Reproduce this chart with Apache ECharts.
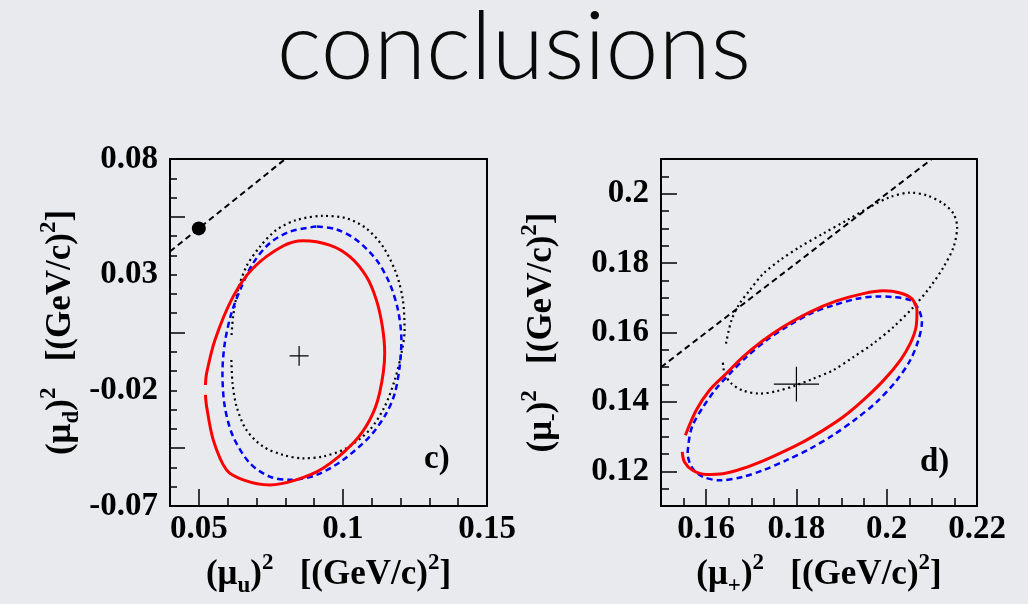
<!DOCTYPE html>
<html>
<head>
<meta charset="utf-8">
<script src="https://cdn.jsdelivr.net/npm/echarts@6/dist/echarts.min.js"></script>
<style>
html,body{margin:0;padding:0;background:#e9eaee;}
#chart{width:1028px;height:604px;}
</style>
</head>
<body>
<div id="chart"></div>
<script>
// ---------- Panel c) data ----------
const cXTicks = [0.05, 0.1, 0.15];
const cYTicks = [-0.07, -0.02, 0.03, 0.08];
const cYLongTicks = [-0.045, 0.005, 0.055];
const cRed = [[0.0523,-0.0220],[0.0527,-0.0270],[0.0550,-0.0414],[0.0596,-0.0544],[0.0654,-0.0587],[0.0746,-0.0609],[0.0838,-0.0587],[0.0931,-0.0537],[0.1035,-0.0429],[0.1093,-0.0328],[0.1127,-0.0213],[0.1145,-0.0040],[0.1137,0.0075],[0.1116,0.0191],[0.1082,0.0291],[0.1024,0.0378],[0.0954,0.0428],[0.0862,0.0447],[0.0792,0.0424],[0.0688,0.0328],[0.0619,0.0205],[0.0556,0.0018],[0.0527,-0.0126],[0.0523,-0.0177]];
const cBlue = [[0.0908,0.0508],[0.0816,0.0486],[0.0746,0.0436],[0.0688,0.0349],[0.0648,0.0248],[0.0613,0.0133],[0.0590,0.0003],[0.0582,-0.0126],[0.0590,-0.0270],[0.0619,-0.0400],[0.0677,-0.0515],[0.0746,-0.0573],[0.0816,-0.0587],[0.0908,-0.0566],[0.1000,-0.0501],[0.1093,-0.0400],[0.1151,-0.0299],[0.1180,-0.0213],[0.1197,-0.0097],[0.1203,0.0018],[0.1191,0.0147],[0.1162,0.0263],[0.1116,0.0364],[0.1047,0.0450],[0.0977,0.0496],[0.0908,0.0508]];
const cDot = [[0.0613,-0.0069],[0.0617,-0.0169],[0.0631,-0.0270],[0.0665,-0.0371],[0.0723,-0.0443],[0.0792,-0.0479],[0.0862,-0.0494],[0.0931,-0.0486],[0.1012,-0.0450],[0.1093,-0.0371],[0.1145,-0.0270],[0.1180,-0.0155],[0.1203,-0.0040],[0.1214,0.0061],[0.1208,0.0191],[0.1185,0.0306],[0.1139,0.0421],[0.1081,0.0500],[0.1012,0.0544],[0.0931,0.0554],[0.0838,0.0536],[0.0769,0.0493],[0.0712,0.0421],[0.0665,0.0335],[0.0636,0.0234],[0.0619,0.0119],[0.0613,0.0025]];
const cDiag = [[0.04,0.04],[0.08,0.08]];
const cPoint = [[0.05,0.05]];
const cCenter = [0.0848,-0.0051];
const cErr = [0.0033,0.0043];

// ---------- Panel d) data ----------
const dXTicks = [0.16, 0.18, 0.2, 0.22];
const dYTicks = [0.12, 0.14, 0.16, 0.18, 0.2];
const dRed = [[0.1554,0.1304],[0.1578,0.1376],[0.1607,0.1433],[0.1644,0.1481],[0.1681,0.1529],[0.1726,0.1577],[0.1770,0.1616],[0.1830,0.1659],[0.1889,0.1691],[0.1948,0.1712],[0.1993,0.1720],[0.2030,0.1714],[0.2056,0.1697],[0.2067,0.1664],[0.2065,0.1616],[0.2052,0.1568],[0.2030,0.1520],[0.1993,0.1462],[0.1948,0.1405],[0.1904,0.1357],[0.1859,0.1318],[0.1815,0.1285],[0.1770,0.1256],[0.1726,0.1230],[0.1681,0.1208],[0.1637,0.1193],[0.1600,0.1191],[0.1570,0.1203],[0.1552,0.1227],[0.1547,0.1256]];
const dBlue = [[0.1563,0.1299],[0.1559,0.1251],[0.1570,0.1208],[0.1593,0.1184],[0.1630,0.1174],[0.1681,0.1184],[0.1726,0.1203],[0.1778,0.1232],[0.1830,0.1265],[0.1881,0.1304],[0.1933,0.1352],[0.1978,0.1400],[0.2022,0.1462],[0.2052,0.1520],[0.2070,0.1577],[0.2078,0.1630],[0.2070,0.1669],[0.2052,0.1693],[0.2015,0.1702],[0.1978,0.1704],[0.1933,0.1697],[0.1881,0.1678],[0.1830,0.1654],[0.1778,0.1616],[0.1733,0.1577],[0.1689,0.1529],[0.1652,0.1481],[0.1622,0.1438],[0.1593,0.1385],[0.1570,0.1333],[0.1563,0.1299]];
const dDot = [[0.1644,0.1568],[0.1656,0.1635],[0.1674,0.1683],[0.1696,0.1721],[0.1726,0.1769],[0.1763,0.1808],[0.1807,0.1846],[0.1859,0.1885],[0.1911,0.1923],[0.1963,0.1962],[0.2007,0.1990],[0.2052,0.2003],[0.2089,0.1995],[0.2126,0.1971],[0.2148,0.1942],[0.2156,0.1904],[0.2148,0.1846],[0.2126,0.1789],[0.2096,0.1731],[0.2059,0.1673],[0.2015,0.1616],[0.1970,0.1568],[0.1926,0.1529],[0.1881,0.1491],[0.1837,0.1467],[0.1800,0.1448],[0.1756,0.1431],[0.1719,0.1424],[0.1681,0.1433],[0.1656,0.1453],[0.1641,0.1481],[0.1637,0.1515]];
const dDiag = [[0.15,0.15],[0.21,0.21]];
const dCenter = [0.18,0.1451];
const dErr = [0.005,0.005];

const SERIF = '"Liberation Serif","Times New Roman",serif';
const fmt = v => String(Number(v.toFixed(3)));

function crossData(c, e) {
  return [[c[0]-e[0], c[1]], [c[0]+e[0], c[1]], null, [c[0], c[1]-e[1]], [c[0], c[1]+e[1]]];
}

const labelStyle = {fontFamily: SERIF, fontWeight: 'bold', fontSize: 33, color: '#000'};
const nameStyle = {
  fontFamily: SERIF, fontWeight: 'bold', fontSize: 35, color: '#000', lineHeight: 46,
  rich: {
    sub: {fontFamily: SERIF, fontWeight: 'bold', fontSize: 23, lineHeight: 22, verticalAlign: 'bottom', color: '#000'},
    sup: {fontFamily: SERIF, fontWeight: 'bold', fontSize: 23, lineHeight: 22, verticalAlign: 'top', color: '#000'}
  }
};

function majorX(grid, min, max, ticks, name, nameGap) {
  return {
    type: 'value', gridIndex: grid, min: min, max: max, position: 'bottom',
    axisLine: {show: true, onZero: false, lineStyle: {color: '#000', width: 2}},
    axisTick: {show: true, inside: true, length: 17, customValues: ticks, lineStyle: {color: '#000', width: 1.5}},
    axisLabel: {show: true, customValues: ticks, formatter: fmt, margin: 7, ...labelStyle},
    splitLine: {show: false},
    name: name, nameLocation: 'middle', nameGap: nameGap, nameTextStyle: nameStyle
  };
}
function minorX(grid, min, max, step) {
  return {
    type: 'value', gridIndex: grid, min: min, max: max, interval: step, position: 'bottom',
    axisLine: {show: false, onZero: false},
    axisTick: {show: true, inside: true, length: 8, lineStyle: {color: '#000', width: 1.5}},
    axisLabel: {show: false}, splitLine: {show: false}
  };
}

const option = {
  backgroundColor: '#e9eaee',
  animation: false,
  title: {
    text: 'conclusions', left: 'center', top: -4,
    textStyle: {fontFamily: 'Lato', fontWeight: 300, fontSize: 95, color: '#0a0a0a'}
  },
  grid: [
    {left: 170, top: 159, width: 317, height: 347, show: true, borderColor: '#000', borderWidth: 2, backgroundColor: 'transparent'},
    {left: 661, top: 159, width: 316, height: 347, show: true, borderColor: '#000', borderWidth: 2, backgroundColor: 'transparent'}
  ],
  xAxis: [
    majorX(0, 0.04, 0.15, cXTicks, '(μ{sub|u}){sup|2}   [(GeV/c){sup|2}]', 46),
    majorX(1, 0.15, 0.22, dXTicks, '(μ{sub|+}){sup|2}   [(GeV/c){sup|2}]', 46),
    minorX(0, 0.04, 0.15, 0.01),
    minorX(1, 0.15, 0.22, 0.005)
  ],
  yAxis: [
    {
      type: 'value', gridIndex: 0, min: -0.07, max: 0.08, interval: 0.05,
      axisLine: {show: true, onZero: false, lineStyle: {color: '#000', width: 2}},
      axisTick: {show: true, inside: true, length: 7, lineStyle: {color: '#000', width: 1.5}},
      minorTick: {show: true, splitNumber: 6, length: 7, lineStyle: {color: '#000', width: 1.5}},
      axisLabel: {formatter: fmt, margin: 12, ...labelStyle},
      splitLine: {show: false}, minorSplitLine: {show: false},
      name: '(μ{sub|d}){sup|2}   [(GeV/c){sup|2}]', nameLocation: 'middle', nameGap: 86, nameTextStyle: nameStyle
    },
    {
      type: 'value', gridIndex: 1, min: 0.11, max: 0.21, interval: 0.005,
      axisLine: {show: true, onZero: false, lineStyle: {color: '#000', width: 2}},
      axisTick: {show: true, inside: true, length: 8, lineStyle: {color: '#000', width: 1.5}},
      axisLabel: {show: true, customValues: dYTicks, formatter: fmt, margin: 12, ...labelStyle},
      splitLine: {show: false},
      name: '(μ{sub|-}){sup|2}   [(GeV/c){sup|2}]', nameLocation: 'middle', nameGap: 96, nameTextStyle: nameStyle
    },
    {
      type: 'value', gridIndex: 1, min: 0.11, max: 0.21, position: 'left',
      axisLine: {show: false, onZero: false},
      axisTick: {show: true, inside: true, length: 16, customValues: dYTicks, lineStyle: {color: '#000', width: 1.5}},
      axisLabel: {show: false}, splitLine: {show: false}
    },
    {
      type: 'value', gridIndex: 0, min: -0.07, max: 0.08, position: 'left',
      axisLine: {show: false, onZero: false},
      axisTick: {show: true, inside: true, length: 15, customValues: cYLongTicks, lineStyle: {color: '#000', width: 1.5}},
      axisLabel: {show: false}, splitLine: {show: false}
    }
  ],
  series: [
    {type: 'line', xAxisIndex: 0, yAxisIndex: 0, data: cDiag, symbol: 'none', lineStyle: {color: '#000', width: 2, type: [6, 4]}},
    {type: 'scatter', xAxisIndex: 0, yAxisIndex: 0, data: cPoint, symbol: 'circle', symbolSize: 14, itemStyle: {color: '#000', opacity: 1}},
    {type: 'line', xAxisIndex: 0, yAxisIndex: 0, data: cDot, symbol: 'none', smooth: 0.3, lineStyle: {color: '#000', width: 2.2, type: [2, 3.5]}},
    {type: 'line', xAxisIndex: 0, yAxisIndex: 0, data: cBlue, symbol: 'none', smooth: 0.3, lineStyle: {color: '#0000ff', width: 2.5, type: [6, 4]}},
    {type: 'line', xAxisIndex: 0, yAxisIndex: 0, data: cRed, symbol: 'none', smooth: 0.3, lineStyle: {color: '#ff0000', width: 3}},
    {type: 'line', xAxisIndex: 0, yAxisIndex: 0, data: crossData(cCenter, cErr), symbol: 'none', connectNulls: false, lineStyle: {color: '#000', width: 1.2}},

    {type: 'line', xAxisIndex: 1, yAxisIndex: 1, data: dDiag, symbol: 'none', lineStyle: {color: '#000', width: 2, type: [6, 4]}},
    {type: 'line', xAxisIndex: 1, yAxisIndex: 1, data: dDot, symbol: 'none', smooth: 0.3, lineStyle: {color: '#000', width: 2.2, type: [2, 3.5]}},
    {type: 'line', xAxisIndex: 1, yAxisIndex: 1, data: dBlue, symbol: 'none', smooth: 0.3, lineStyle: {color: '#0000ff', width: 2.5, type: [6, 4]}},
    {type: 'line', xAxisIndex: 1, yAxisIndex: 1, data: dRed, symbol: 'none', smooth: 0.3, lineStyle: {color: '#ff0000', width: 3}},
    {type: 'line', xAxisIndex: 1, yAxisIndex: 1, data: crossData(dCenter, dErr), symbol: 'none', connectNulls: false, lineStyle: {color: '#000', width: 1.2}}
  ],
  graphic: [
    {type: 'text', left: 424, top: 443, style: {text: 'c)', fontFamily: SERIF, fontWeight: 'bold', fontSize: 33, fill: '#000'}},
    {type: 'text', left: 920, top: 446, style: {text: 'd)', fontFamily: SERIF, fontWeight: 'bold', fontSize: 33, fill: '#000'}}
  ]
};

const chart = echarts.init(document.getElementById('chart'), null, {renderer: 'canvas'});
chart.setOption(option);
</script>
</body>
</html>
